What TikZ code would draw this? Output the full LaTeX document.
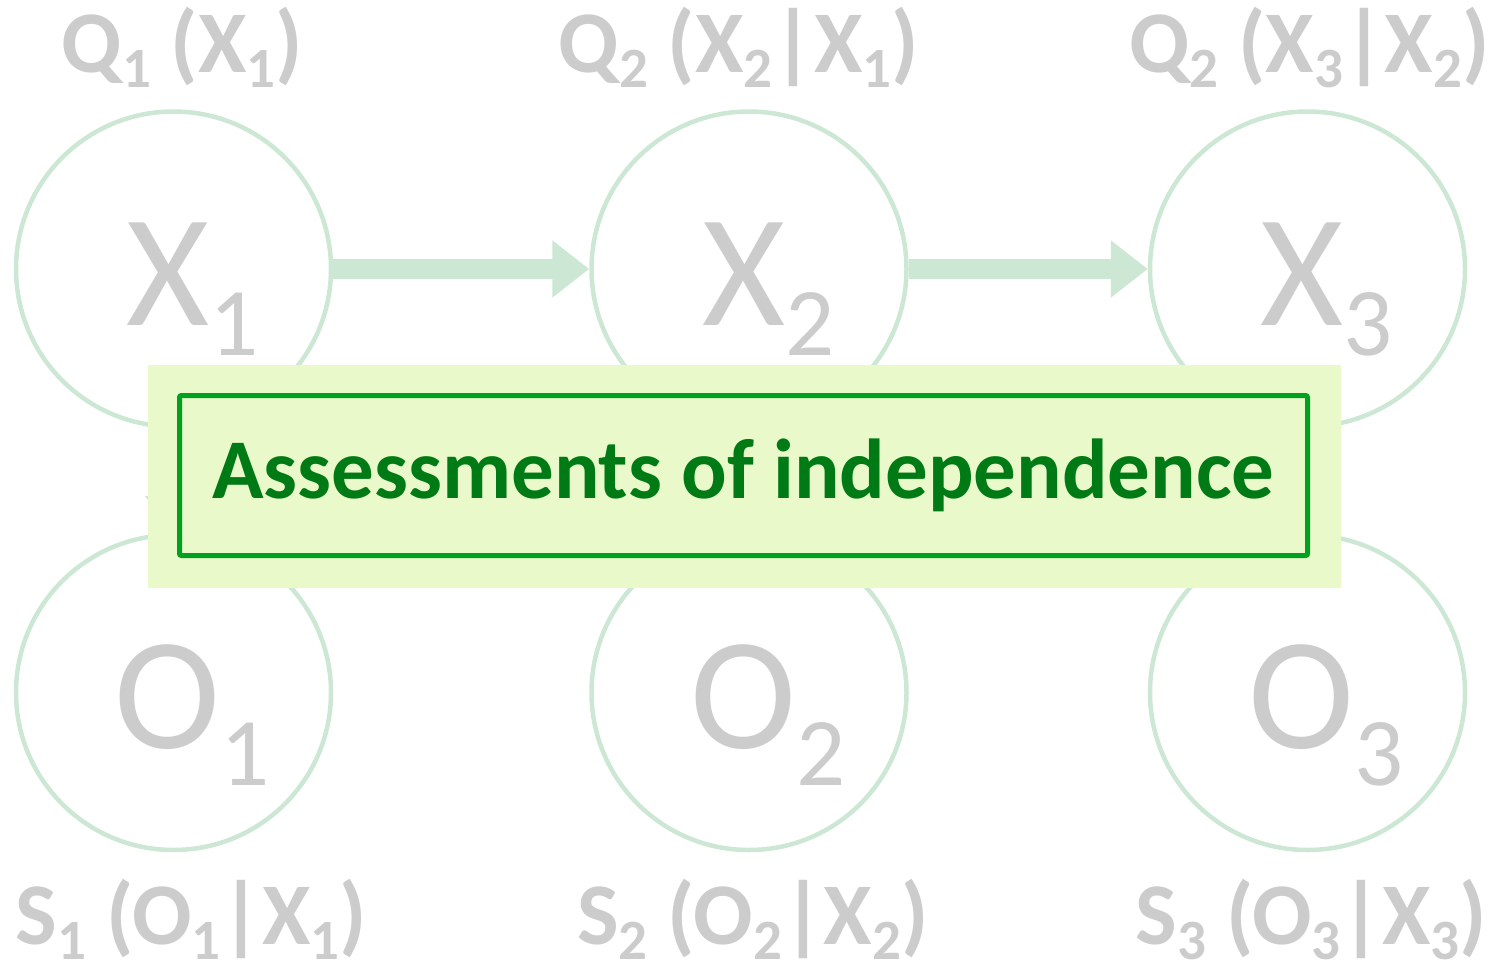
\documentclass[tikz,border=0pt]{standalone}
\usepackage{fontspec}
\setmainfont{Carlito}
\usetikzlibrary{arrows.meta,positioning}
\definecolor{nodegreen}{RGB}{204,232,212}
\definecolor{labelgray}{RGB}{204,204,204}
\definecolor{notefill}{RGB}{233,249,202}
\definecolor{noteline}{RGB}{0,160,32}
\definecolor{notetext}{RGB}{0,122,20}
\newcommand{\bigsub}[2][30pt]{{\fontsize{97}{97}\selectfont\raisebox{-#1}{#2}}}
\newcommand{\lblsub}[1]{{\fontsize{57}{57}\selectfont\raisebox{-15pt}{#1}}}

\begin{document}
\begin{tikzpicture}[
    x=1pt, y=-1pt,
    state/.style = {circle, draw=nodegreen, line width=4.5pt, minimum size=315pt, inner sep=0pt},
    var/.style = {anchor=base west, inner sep=0pt, text=labelgray, font=\fontsize{160}{160}\selectfont},
    prob/.style = {anchor=base, inner sep=0pt, text=labelgray, font=\fontsize{88}{88}\selectfont\bfseries},
    flow/.style = {draw=nodegreen, line width=20pt, -{Triangle[length=37pt, width=55pt]}}
]
    \useasboundingbox (0,0) rectangle (1491,969);

    % 1. Hidden states and observations
    \node [state] (x1) at (173.5,269) {};
    \node [state, right=256pt of x1] (x2) {};
    \node [state, right=239pt of x2] (x3) {};
    \node [state, below=104pt of x1] (o1) {};
    \node [state, below=104pt of x2] (o2) {};
    \node [state, below=104pt of x3] (o3) {};

    \node [var] (x1t) at ([xshift=-47pt, yshift=-56pt]x1.center) {X\bigsub{1}};
    \node [var] (x2t) at ([xshift=-47pt, yshift=-56pt]x2.center) {X\bigsub{2}};
    \node [var] (x3t) at ([xshift=-47pt, yshift=-56pt]x3.center) {X\bigsub{3}};
    \node [var] (o1t) at ([xshift=-59pt, yshift=-56pt]o1.center) {O\bigsub[37pt]{1}};
    \node [var] (o2t) at ([xshift=-59pt, yshift=-56pt]o2.center) {O\bigsub[37pt]{2}};
    \node [var] (o3t) at ([xshift=-59pt, yshift=-56pt]o3.center) {O\bigsub[37pt]{3}};

    % 2. Distributions
    \node [prob] (q1) at ([xshift=9pt, yshift=37pt]x1.north) {Q\lblsub{1} (X\lblsub{1})};
    \node [prob] (q2) at ([xshift=-10pt, yshift=37pt]x2.north) {Q\lblsub{2} (X\lblsub{2}|X\lblsub{1})};
    \node [prob] (q3) at ([xshift=2pt, yshift=37pt]x3.north) {Q\lblsub{2} (X\lblsub{3}|X\lblsub{2})};
    \node [prob] (s1) at ([xshift=18pt, yshift=-92pt]o1.south) {S\lblsub{1} (O\lblsub{1}|X\lblsub{1})};
    \node [prob] (s2) at ([xshift=4pt, yshift=-92pt]o2.south) {S\lblsub{2} (O\lblsub{2}|X\lblsub{2})};
    \node [prob] (s3) at ([xshift=4pt, yshift=-92pt]o3.south) {S\lblsub{3} (O\lblsub{3}|X\lblsub{3})};

    % 3. Connections
    \draw [flow] (x1) -- (x2);
    \draw [flow] (x2) -- (x3);
    \draw [flow] (x1) -- (o1);
    \draw [flow] (x2) -- (o2);
    \draw [flow] (x3) -- (o3);

    % 4. Overlay note
    \node [fill=notefill, minimum width=1193pt, minimum height=223pt, inner sep=0pt] (notebg) at (744.5,476.5) {};
    \node [draw=noteline, line width=5pt, rounded corners=2pt, minimum width=1128pt, minimum height=160pt, inner sep=0pt,
           text=notetext, font=\fontsize{85}{85}\selectfont\bfseries] (note) at (743.5,475.5) {\raisebox{-8pt}{Assessments of independence}};

\end{tikzpicture}
\end{document}
